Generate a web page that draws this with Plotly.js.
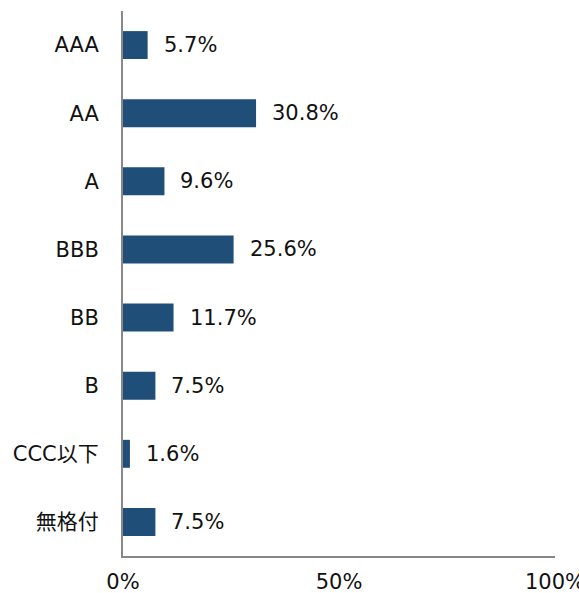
<!DOCTYPE html>
<html><head><meta charset="utf-8">
<script src="https://cdn.plot.ly/plotly-3.0.1.min.js"></script>
<style>html,body{margin:0;padding:0;background:#fff}#chart{width:579px;height:593px}</style>
</head><body><div id="chart"></div>
<script>
const categories = ["AAA","AA","A","BBB","BB","B","CCC以下","無格付"];
const values = [5.7, 30.8, 9.6, 25.6, 11.7, 7.5, 1.6, 7.5];
const tickVals = [0, 50, 100];
const tickText = ["0%", "50%", "100%"];

const font = {family: "DejaVu Sans, Noto Sans CJK JP, sans-serif", size: 21, color: "#111"};

const trace = {
  type: "bar", orientation: "h",
  x: values, y: categories,
  marker: {color: "#1F4E79"},
  width: 0.41,
  hoverinfo: "skip"
};

const annotations = values.map((v, i) => ({
  x: v, y: categories[i], xref: "x", yref: "y",
  text: v.toFixed(1) + "%", showarrow: false,
  xanchor: "left", xshift: 14, font: font
}));

const layout = {
  width: 579, height: 593,
  margin: {l: 123, r: 24, t: 11, b: 37},
  paper_bgcolor: "#fff", plot_bgcolor: "#fff",
  showlegend: false,
  font: font,
  xaxis: {
    range: [0, 100], tickvals: tickVals, ticktext: tickText,
    showgrid: false, zeroline: false, showline: true,
    linecolor: "#888", linewidth: 2, ticks: "", ticklabelstandoff: 6,
    ticklabeloverflow: "allow",
    tickfont: font, fixedrange: true
  },
  yaxis: {
    categoryorder: "array", categoryarray: categories, autorange: "reversed",
    showgrid: false, zeroline: false, showline: true,
    linecolor: "#888", linewidth: 2, ticks: "", ticklabelstandoff: 18,
    tickfont: font, fixedrange: true
  },
  annotations: annotations
};

Plotly.newPlot("chart", [trace], layout, {displayModeBar: false, staticPlot: true});
</script>
</body></html>
